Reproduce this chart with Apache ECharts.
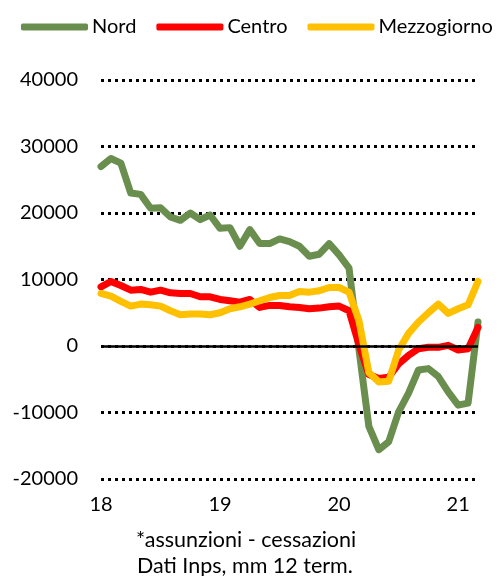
<!DOCTYPE html>
<html>
<head>
<meta charset="utf-8">
<script src="https://cdn.jsdelivr.net/npm/echarts@6/dist/echarts.min.js"></script>
<style>
  html,body{margin:0;padding:0;background:#fff;}
  #chart{width:499px;height:576px;}
</style>
</head>
<body>
<div id="chart"></div>
<script>
// mesi gen-2018 .. mar-2021
const months = [];
for (let y = 18; y <= 21; y++) {
  for (let m = 1; m <= 12; m++) {
    if (y === 21 && m > 3) break;
    months.push(y + '-' + String(m).padStart(2, '0'));
  }
}
const yearLabels = ['18', '19', '20', '21'];

const nord = [27000, 28200, 27500, 23000, 22800, 20700, 20800, 19400, 18900, 20000,
  19000, 19700, 17700, 17800, 15000, 17500, 15400, 15400, 16100, 15700,
  15000, 13500, 13800, 15400, 13700, 11700, -500, -12100, -15600, -14400,
  -9900, -7100, -3600, -3400, -4600, -6900, -8900, -8600, 3600];
const centro = [8900, 9700, 9100, 8400, 8500, 8100, 8400, 8000, 7900, 7900,
  7400, 7400, 7000, 6800, 6600, 7000, 5800, 6100, 6100, 5900,
  5800, 5600, 5700, 5900, 6000, 5300, 200, -4300, -4900, -4700,
  -2700, -1400, -400, -200, -200, 100, -600, -400, 2800];
const mezzogiorno = [7900, 7500, 6700, 6000, 6300, 6200, 6000, 5300, 4700, 4800,
  4800, 4700, 5000, 5600, 5900, 6300, 6800, 7300, 7600, 7600,
  8200, 8100, 8300, 8800, 8800, 8100, 3800, -4000, -5400, -5300,
  -600, 1900, 3600, 5000, 6300, 4900, 5600, 6200, 9700];

const FONT = 'Lato';

const chart = echarts.init(document.getElementById('chart'));

const mkLine = (name, data, color) => ({
  name, type: 'line', data, showSymbol: false, z: 3,
  lineStyle: {width: 7, color, cap: 'round', join: 'round'},
  itemStyle: {color}
});

chart.setOption({
  animation: false,
  textStyle: {fontFamily: FONT},
  legend: {
    top: 12, left: 16,
    data: ['Nord', 'Centro', 'Mezzogiorno'],
    icon: 'roundRect',
    itemWidth: 67, itemHeight: 7, itemGap: 20,
    textStyle: {fontFamily: FONT, fontSize: 20, color: '#000', padding: [0, 0, 0, -1]}
  },
  grid: {left: 101, right: 21, top: 80, bottom: 97},
  xAxis: {
    type: 'category', data: months, boundaryGap: false,
    axisLine: {show: false}, axisTick: {show: false}, splitLine: {show: false},
    axisLabel: {
      interval: 0, margin: 16, fontSize: 20, color: '#000', fontFamily: FONT,
      formatter: v => {
        const [y, m] = v.split('-');
        return m === '01' && yearLabels.includes(y) ? y : '';
      }
    }
  },
  yAxis: {
    type: 'value', min: -20000, max: 40000, interval: 10000,
    axisLine: {show: false}, axisTick: {show: false},
    axisLabel: {margin: 23, fontSize: 20, color: '#000', fontFamily: FONT, formatter: v => String(v)},
    splitLine: {lineStyle: {type: [3, 4], color: '#000', width: 3}}
  },
  graphic: [
    {type: 'text', left: 136, top: 529, style: {text: '*assunzioni - cessazioni', font: '21.5px Lato', fill: '#000'}},
    {type: 'text', left: 137, top: 555, style: {text: 'Dati Inps, mm 12 term.', font: '21.5px Lato', fill: '#000'}}
  ],
  series: [
    {
      name: 'zero', type: 'line', data: [], z: 1,
      markLine: {
        silent: true, symbol: 'none', label: {show: false},
        lineStyle: {type: 'solid', color: '#000', width: 2.5},
        data: [{yAxis: 0}]
      }
    },
    mkLine('Nord', nord, '#6a8e4e'),
    mkLine('Centro', centro, '#ff0000'),
    mkLine('Mezzogiorno', mezzogiorno, '#ffc000')
  ]
});
</script>
</body>
</html>
